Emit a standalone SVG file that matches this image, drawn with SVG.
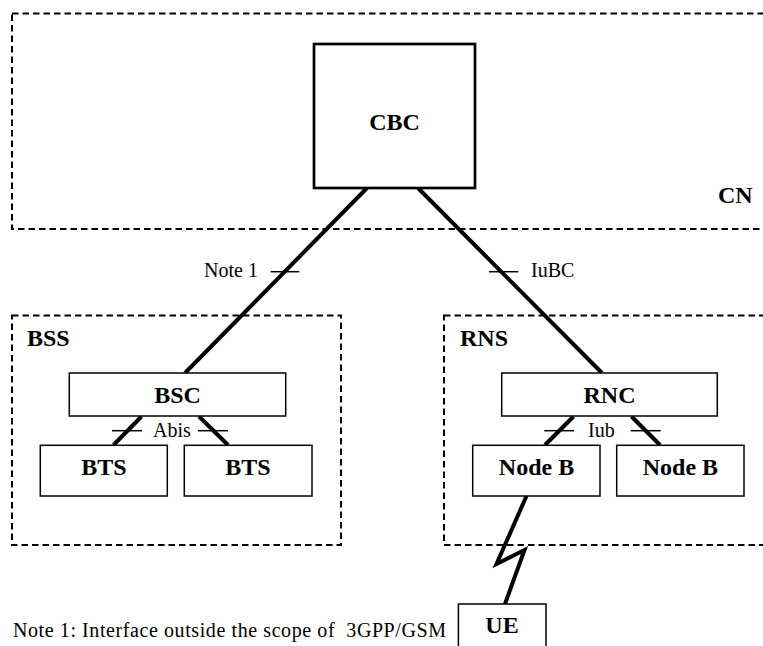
<svg xmlns="http://www.w3.org/2000/svg" width="763" height="646" viewBox="0 0 763 646">
<style>
.area{fill:none;stroke:#000;stroke-width:2;stroke-dasharray:6.5 4}
.box{fill:#fff;stroke:#000;stroke-width:1.5}
.big{fill:#fff;stroke:#000;stroke-width:2.7}
.lnk{fill:none;stroke:#000;stroke-width:4}
.tick{stroke:#000;stroke-width:1.5}
.b{font-family:"Liberation Serif","Times New Roman",serif;font-weight:bold;font-size:24px;fill:#000}
.r{font-family:"Liberation Serif","Times New Roman",serif;font-size:20px;fill:#000}
</style>
<rect width="763" height="646" fill="#fff"/>
<g id="CN"><rect class="area" x="12" y="13.5" width="770" height="215.5"/><text class="b" x="718" y="203">CN</text></g>
<g id="BSS"><rect class="area" x="12" y="315.5" width="329" height="229.5"/><text class="b" x="27" y="346">BSS</text></g>
<g id="RNS"><rect class="area" x="444" y="315.5" width="340" height="229.5"/><text class="b" x="460" y="346">RNS</text></g>
<g id="connectors">
<line class="lnk" x1="367" y1="188" x2="185" y2="373"/>
<line class="lnk" x1="418" y1="188" x2="602" y2="373"/>
<line class="lnk" x1="141.5" y1="416.5" x2="113.5" y2="445"/>
<line class="lnk" x1="199" y1="416.5" x2="228" y2="445"/>
<line class="lnk" x1="573.5" y1="416.5" x2="545" y2="445"/>
<line class="lnk" x1="631.5" y1="416.5" x2="660" y2="445"/>
<polyline class="lnk" points="526.5,496 496.5,564 524.5,550 505,604"/>
<line class="tick" x1="270.7" y1="271.7" x2="299.3" y2="271.7"/>
<line class="tick" x1="489" y1="271.7" x2="518.3" y2="271.7"/>
<line class="tick" x1="112" y1="430.7" x2="142" y2="430.7"/>
<line class="tick" x1="198" y1="430.7" x2="228" y2="430.7"/>
<line class="tick" x1="544.3" y1="430.7" x2="574" y2="430.7"/>
<line class="tick" x1="630.7" y1="430.7" x2="660.7" y2="430.7"/>
<text class="r" x="204" y="277">Note 1</text>
<text class="r" x="531" y="277">IuBC</text>
<text class="r" x="153" y="437">Abis</text>
<text class="r" x="588" y="437">Iub</text>
</g>
<g id="CBC"><rect class="big" x="314" y="44" width="161" height="144"/><text class="b" x="394.5" y="130" text-anchor="middle">CBC</text></g>
<g id="BSC"><rect class="box" x="69.3" y="373" width="216.4" height="43"/><text class="b" x="177.5" y="403" text-anchor="middle">BSC</text></g>
<g id="BTS1"><rect class="box" x="40.3" y="445.3" width="127" height="50.7"/><text class="b" x="104" y="475" text-anchor="middle">BTS</text></g>
<g id="BTS2"><rect class="box" x="184.3" y="445.3" width="127.7" height="50.7"/><text class="b" x="248" y="475" text-anchor="middle">BTS</text></g>
<g id="RNC"><rect class="box" x="501.7" y="373" width="215.6" height="43"/><text class="b" x="609.5" y="403" text-anchor="middle">RNC</text></g>
<g id="NodeB1"><rect class="box" x="472.7" y="445.3" width="127.3" height="50.7"/><text class="b" x="536.5" y="475" text-anchor="middle">Node B</text></g>
<g id="NodeB2"><rect class="box" x="616.7" y="445.3" width="127.3" height="50.7"/><text class="b" x="680.4" y="475" text-anchor="middle">Node B</text></g>
<g id="UE"><rect class="box" x="458.4" y="604" width="87.6" height="60"/><text class="b" x="502" y="633" text-anchor="middle">UE</text></g>
<text class="r" x="13" y="637" xml:space="preserve" style="white-space:pre;font-size:20px" textLength="433" lengthAdjust="spacing">Note 1: Interface outside the scope of  3GPP/GSM</text>
</svg>
